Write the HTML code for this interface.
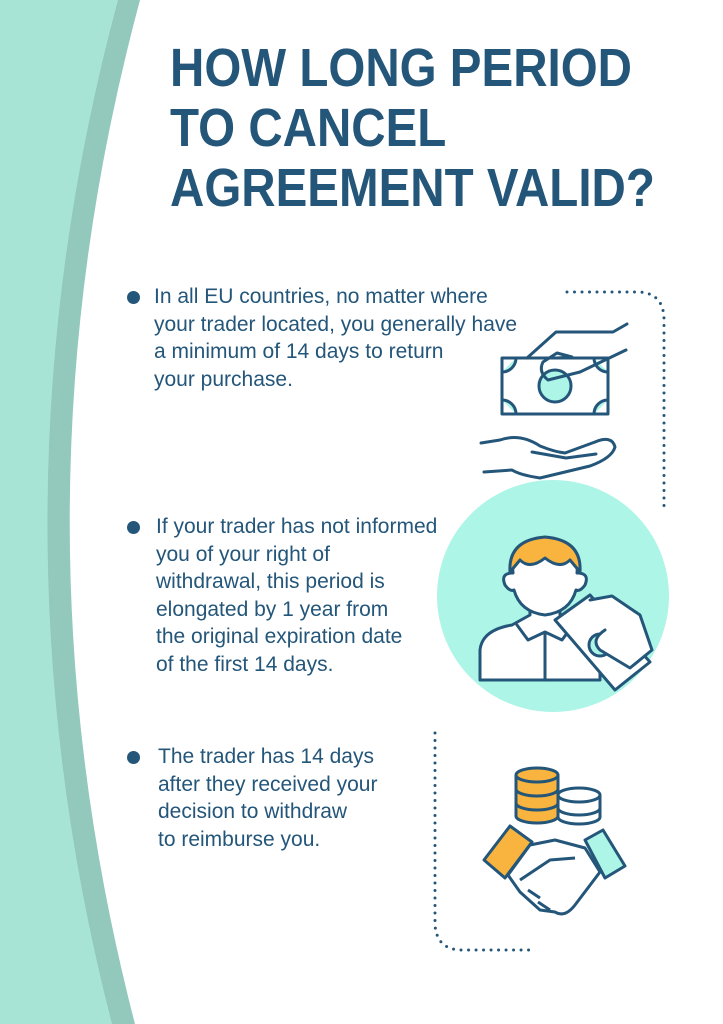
<!DOCTYPE html>
<html><head><meta charset="utf-8"><style>
body{margin:0;width:723px;height:1024px;overflow:hidden;position:relative;background:#fff;font-family:"Liberation Sans",sans-serif;color:#24567a}
svg{position:absolute;left:0;top:0}
.t{position:absolute;left:170px;top:38px;font-weight:bold;font-size:54px;line-height:60px;color:#24567a;transform:scaleX(0.88);transform-origin:0 0;white-space:nowrap}
.p{position:absolute;font-size:21px;line-height:27.5px;color:#24567a;white-space:nowrap}
.b{position:absolute;width:13px;height:13px;border-radius:50%;background:#24567a}
</style></head><body>
<svg width="723" height="1024" viewBox="0 0 723 1024">
<rect width="723" height="1024" fill="#a8e4d6"/>
<path d="M118,0 Q-20,512 112,1024 L723,1024 L723,0Z" fill="#93c8bc"/>
<path d="M140,0 Q2,512 135,1024 L723,1024 L723,0Z" fill="#fff"/>
<g fill="none" stroke="#24567a" stroke-width="3" stroke-linecap="round" stroke-dasharray="0 7.5">
<path d="M567,292 L640,292 Q664,294 664,320 L664,510"/>
<path d="M435,733 L435,925 Q437,950 462,950 L535,950"/>
</g>
<g stroke="#24567a" stroke-width="3" fill="none" stroke-linejoin="round" stroke-linecap="round">
<rect x="502" y="358" width="106" height="56" fill="#fff"/>
<path d="M502,372 a14,14 0 0 0 14,-14 M594,358 a14,14 0 0 0 14,14 M608,400 a14,14 0 0 0 -14,14 M516,414 a14,14 0 0 0 -14,-14" fill="#adf5e6"/>
<circle cx="555" cy="386" r="16" fill="#adf5e6"/>
<path d="M527,358 L556,332 L613,332 L627,324 M557,358 L572,357 L557,353 L543,362 Q538,372 548,380 L580,372 L626,350"/>
<path d="M481,443 L500,440 Q520,433 540,446 Q555,452 565,453 L595,442 Q612,435 615,447 Q612,458 590,466 L540,478 Q520,475 512,470 L484,472 M532,452 L566,458 L596,454"/>
</g>
<circle cx="553" cy="596" r="116" fill="#adf5e6"/>
<g stroke="#24567a" stroke-width="3" stroke-linejoin="round" stroke-linecap="round">
<path d="M480,680 L480,650 Q482,630 512,625 L530,615 L530,595 L560,595 L560,615 L585,626 L600,640 L600,680Z" fill="#fff"/>
<path d="M513,573 Q500,573 505,585 Q510,592 514,590 Q520,612 545,615 Q570,612 576,590 Q580,592 585,585 Q590,573 577,573 Q580,540 545,538 Q510,540 513,573Z" fill="#fff"/>
<path d="M510,572 Q508,540 545,537 Q582,540 580,572 L570,560 Q560,570 545,558 Q530,570 520,560Z" fill="#f8b43e"/>
<path d="M517,625 L528,640 L545,632 L562,640 L573,625 M545,632 L545,680" fill="none"/>
<path d="M555,620 L590,595 L650,662 L615,690Z" fill="#fff"/>
<circle cx="600" cy="645" r="11" fill="#adf5e6"/>
<path d="M590,600 L612,596 L640,615 L652,650 L630,668 L600,650 Q590,640 605,630" fill="#fff"/>
</g>
<g stroke="#24567a" stroke-width="3" stroke-linejoin="round">
<ellipse cx="537" cy="816" rx="21" ry="7" fill="#f8b43e"/>
<rect x="516" y="775" width="42" height="41" fill="#f8b43e" stroke="none"/>
<path d="M516,775 L516,816 M558,775 L558,816 M516,789 a21,7 0 0 0 42,0 M516,803 a21,7 0 0 0 42,0" fill="none"/>
<ellipse cx="537" cy="775" rx="21" ry="7" fill="#f8b43e"/>
<ellipse cx="579" cy="817" rx="21" ry="7" fill="#fff"/>
<rect x="558" y="795" width="42" height="22" fill="#fff" stroke="none"/>
<path d="M558,795 L558,817 M600,795 L600,817 M558,808 a21,7 0 0 0 42,0" fill="none"/>
<ellipse cx="579" cy="795" rx="21" ry="7" fill="#fff"/>
<path d="M484,860 L510,826 L532,842 L505,878Z" fill="#f8b43e"/>
<path d="M585,840 L603,830 L625,866 L605,878Z" fill="#adf5e6"/>
<path d="M530,845 L555,840 L585,848 L600,872 L575,905 Q565,918 555,912 L540,910 L520,892 L508,875Z" fill="#fff"/>
<path d="M520,880 L550,860 L575,858 M528,890 L540,898 M538,902 L550,910" fill="none"/>
</g>
</svg>
<div class="t">HOW LONG PERIOD<br>TO CANCEL<br>AGREEMENT VALID?</div>
<div class="b" style="left:127px;top:291px"></div>
<div class="p" style="left:154px;top:283px">In all EU countries, no matter where<br>your trader located, you generally have<br>a minimum of 14 days to return<br>your purchase.</div>
<div class="b" style="left:127px;top:521px"></div>
<div class="p" style="left:156px;top:513px">If your trader has not informed<br>you of your right of<br>withdrawal, this period is<br>elongated by 1 year from<br>the original expiration date<br>of the first 14 days.</div>
<div class="b" style="left:127px;top:751px"></div>
<div class="p" style="left:158px;top:743px">The trader has 14 days<br>after they received your<br>decision to withdraw<br>to reimburse you.</div>
</body></html>
